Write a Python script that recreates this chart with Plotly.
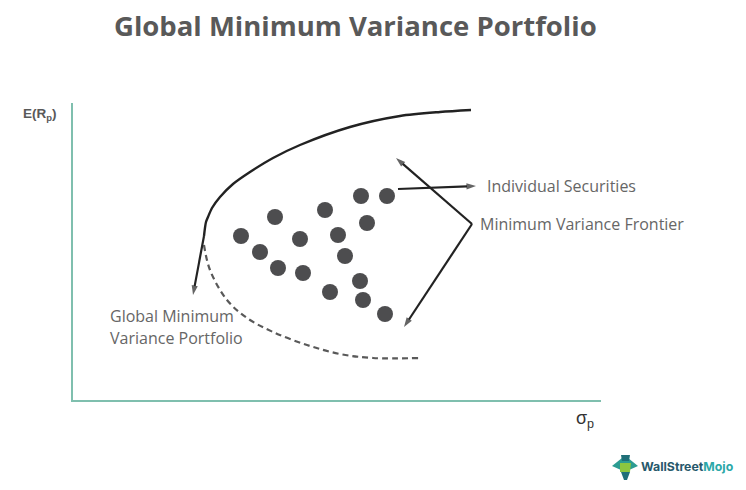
import plotly.graph_objects as go

# Values are in axis units: distance from the chart origin along sigma_p and E(R_p)
frontier_x = [131, 133, 135, 139, 147, 160, 177, 200, 227, 277, 327, 367, 398]
frontier_y = [165, 179, 184, 193, 204, 217, 229, 243, 256, 274, 285, 289, 291]
dashed_x = [131, 137, 154, 174, 200, 234, 267, 300, 347]
dashed_y = [156, 131, 101, 83, 69, 56, 47, 43, 43]
sec_x = [168, 202, 187, 205, 230, 227, 252, 265, 272, 294, 288, 314, 287, 257, 290, 312]
sec_y = [165, 184, 149, 133, 128, 162, 191, 166, 145, 178, 205, 205, 120, 109, 101, 87]
arrow_from_x = [131, 325, 399, 399]
arrow_from_y = [165, 212, 177, 177]
arrow_to_x = [120, 403, 323, 331]
arrow_to_y = [106, 215, 243, 74]

# The page body has an 8 px default margin, so the figure itself is 16 px smaller
PAGE_MARGIN = 8
W, H = 746, 490
L, R, T, B = 73, 601, 103, 400
dark = "#222222"
grey = "#595959"
label_grey = "#666666"
teal = "#7fbfae"


def px(x):
    return (x - L) / (R - L)


def py(y):
    return (B - y) / (B - T)


fig = go.Figure()
fig.add_trace(go.Scatter(x=frontier_x, y=frontier_y, mode="lines",
                         line=dict(color=dark, width=2.4, shape="spline", smoothing=0.8), hoverinfo="skip"))
fig.add_trace(go.Scatter(x=dashed_x, y=dashed_y, mode="lines",
                         line=dict(color=grey, width=2.2, dash="6px,4px", shape="spline"), hoverinfo="skip"))
fig.add_trace(go.Scatter(x=sec_x, y=sec_y, mode="markers",
                         marker=dict(color="#4d4d4f", size=16), hoverinfo="skip"))

for x0, y0, x1, y1 in zip(arrow_from_x, arrow_from_y, arrow_to_x, arrow_to_y):
    fig.add_trace(go.Scatter(x=[x0, x1], y=[y0, y1], mode="lines+markers",
                             line=dict(color=dark, width=2.2),
                             marker=dict(symbol="arrow", angleref="previous", size=[0, 10], color=dark,
                                         line=dict(width=0)),
                             hoverinfo="skip"))


def label(text, x, y, size, color=label_grey, anchor="left", family="Open Sans"):
    fig.add_annotation(x=px(x), y=py(y), xref="paper", yref="paper", text=text, showarrow=False,
                       xanchor=anchor, yanchor="middle", align="left",
                       font=dict(family=family, size=size, color=color), borderpad=0, borderwidth=0)


label("<b>Global Minimum Variance Portfolio</b>", 355.5, 26, 27.5, grey, "center")
label("<b>E(R<sub>p</sub>)</b>", 23, 114, 13.5, grey, family="Liberation Sans")
label("σ<sub>p</sub>", 576, 419, 18, "#333333", family="Liberation Sans")
label("Individual Securities", 487, 186, 16)
label("Minimum Variance Frontier", 480, 224, 16)
label("Global Minimum", 110, 316, 16)
label("Variance Portfolio", 110, 338, 16)
label("<b>WallStreet<span style='color:#2ba8a8'>Mojo</span></b>", 641, 466, 12.3, "#27586b", family="Inter")

# Logo
shapes = []


def poly(points, color):
    path = "M" + "L".join(f"{px(x):.5f},{py(y):.5f}" for x, y in points) + "Z"
    shapes.append(dict(type="path", xref="paper", yref="paper", path=path, fillcolor=color,
                       line=dict(width=0), layer="above"))


poly([(612, 466), (622, 458), (630, 463), (630, 470), (621, 470)], "#2c9c92")
poly([(638, 466), (628, 458), (620, 463), (620, 470), (629, 470)], "#2c9c92")
poly([(620, 463), (631, 463), (630, 472), (620, 472)], "#8cc63f")
poly([(621, 472), (630, 472), (627, 480), (624, 480)], "#1f6f78")
poly([(621, 455), (630, 455), (629, 461), (622, 461)], "#1f6f78")

fig.update_layout(
    width=W - 2 * PAGE_MARGIN, height=H - 2 * PAGE_MARGIN, autosize=False, showlegend=False,
    paper_bgcolor="white", plot_bgcolor="white",
    margin=dict(l=L - PAGE_MARGIN, r=W - PAGE_MARGIN - R, t=T - PAGE_MARGIN, b=H - PAGE_MARGIN - B),
    shapes=shapes,
    xaxis=dict(range=[0, R - L], showgrid=False, zeroline=False, showticklabels=False, ticks="",
               showline=True, linecolor=teal, linewidth=2),
    yaxis=dict(range=[1, 298], showgrid=False, zeroline=False, showticklabels=False, ticks="",
               showline=True, linecolor=teal, linewidth=2),
)
fig.write_html("out.html")
